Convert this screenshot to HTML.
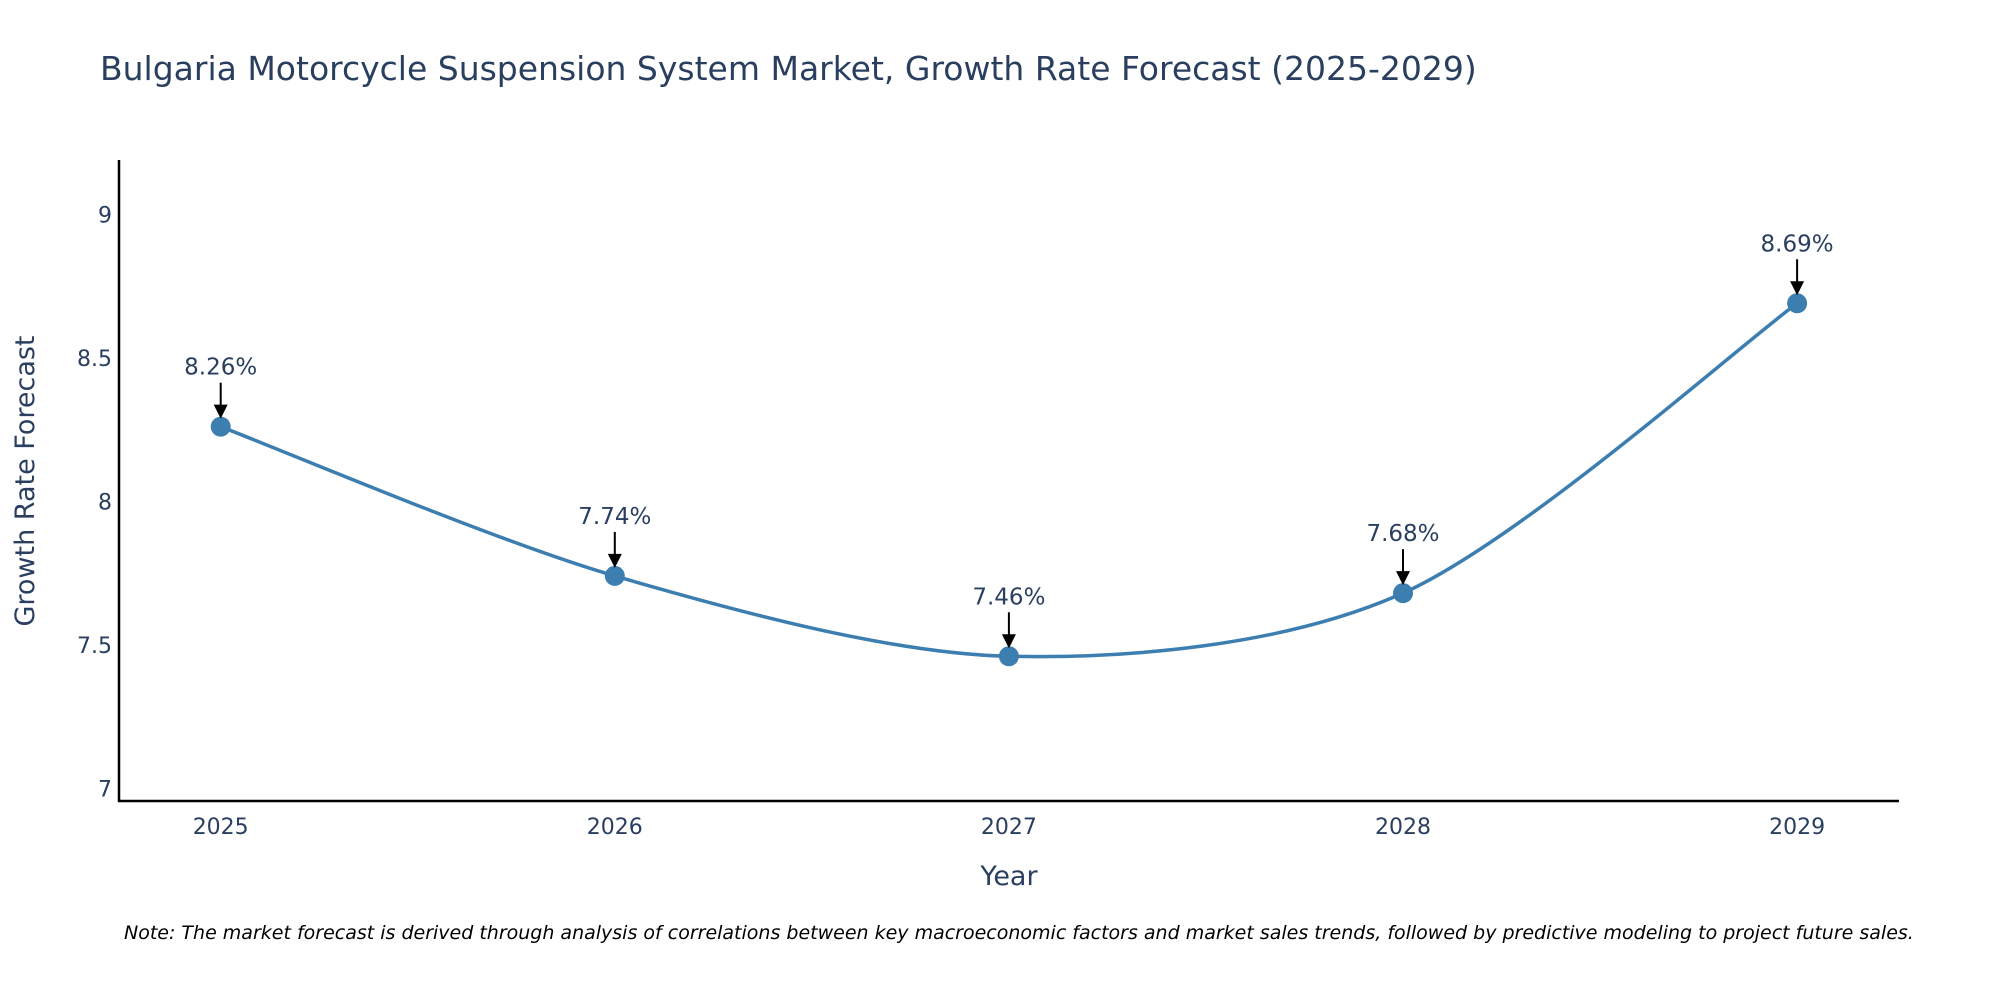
<!DOCTYPE html>
<html><head><meta charset="utf-8">
<style>
body{margin:0;background:#fff;}
svg{display:block;font-family:"DejaVu Sans",sans-serif;}
</style></head>
<body>
<svg id="chart" width="2000" height="1000">
<text x="100" y="80" font-size="33" fill="#2a3f5f">Bulgaria Motorcycle Suspension System Market, Growth Rate Forecast (2025-2029)</text>
<g id="yticks"></g><g id="xticks"></g>
<line x1="119" y1="160" x2="119" y2="802" stroke="#000" stroke-width="2.5"/>
<line x1="118" y1="801" x2="1899" y2="801" stroke="#000" stroke-width="2.5"/>
<text transform="translate(34,481) rotate(-90)" text-anchor="middle" font-size="27" fill="#2a3f5f">Growth Rate Forecast</text>
<text x="1009" y="885" text-anchor="middle" font-size="27" fill="#2a3f5f">Year</text>
<g id="series"></g>
<text x="124" y="939" font-size="19" font-style="italic" fill="#000">Note: The market forecast is derived through analysis of correlations between key macroeconomic factors and market sales trends, followed by predictive modeling to project future sales.</text>
</svg>
<script>
const years = [2025, 2026, 2027, 2028, 2029];
const rates = [8.26, 7.74, 7.46, 7.68, 8.69];
const yTickValues = [7, 7.5, 8, 8.5, 9];
const yTickLabels = ["7", "7.5", "8", "8.5", "9"];
const NS = "http://www.w3.org/2000/svg";
function xS(v){ return 220.7 + (v - 2025) * 394.1; }
function yS(v){ return 788.3 - (v - 7) * 287; }
function mk(tag, attrs, parent){ const e = document.createElementNS(NS, tag); for (const k in attrs) e.setAttribute(k, attrs[k]); parent.appendChild(e); return e; }
const yt = document.getElementById('yticks');
yTickValues.forEach((v, i) => {
  const t = mk('text', {x: 112, y: yS(v) + 8, 'text-anchor': 'end', 'font-size': 22, fill: '#2a3f5f'}, yt);
  t.textContent = yTickLabels[i];
  
  
});
const xt = document.getElementById('xticks');
years.forEach(y => {
  const t = mk('text', {x: xS(y), y: 834, 'text-anchor': 'middle', 'font-size': 22, fill: '#2a3f5f'}, xt);
  t.textContent = String(y);
  
  
});
const g = document.getElementById('series');
const pts = years.map((y, i) => [xS(y), yS(rates[i])]);
let d = 'M' + pts[0][0] + ',' + pts[0][1];
const s = 0.3;
for (let i = 0; i < pts.length - 1; i++) {
  const p0 = pts[Math.max(0, i - 1)], p1 = pts[i], p2 = pts[i + 1], p3 = pts[Math.min(pts.length - 1, i + 2)];
  const c1 = [p1[0] + (p2[0] - p0[0]) * s / 2, p1[1] + (p2[1] - p0[1]) * s / 2];
  const c2 = [p2[0] - (p3[0] - p1[0]) * s / 2, p2[1] - (p3[1] - p1[1]) * s / 2];
  d += ' C' + c1.join(',') + ' ' + c2.join(',') + ' ' + p2.join(',');
}
const line = mk('path', {d: d, fill: 'none', stroke: '#3d7eb0', 'stroke-width': 3.5}, g);


pts.forEach((p, i) => {
  const c = mk('circle', {cx: p[0], cy: p[1], r: 10, fill: '#3d7eb0'}, g);
  
  
  const a = mk('line', {x1: p[0], y1: p[1] - 44, x2: p[0], y2: p[1] - 20, stroke: '#000', 'stroke-width': 2}, g);
  
  
  const h = mk('polygon', {points: (p[0]-7)+','+(p[1]-22)+' '+(p[0]+7)+','+(p[1]-22)+' '+p[0]+','+(p[1]-8), fill: '#000'}, g);
  
  
  const t = mk('text', {x: p[0], y: p[1] - 52, 'text-anchor': 'middle', 'font-size': 23, fill: '#2a3f5f'}, g);
  t.textContent = rates[i].toFixed(2) + '%';
  
  
});
</script>
</body></html>
